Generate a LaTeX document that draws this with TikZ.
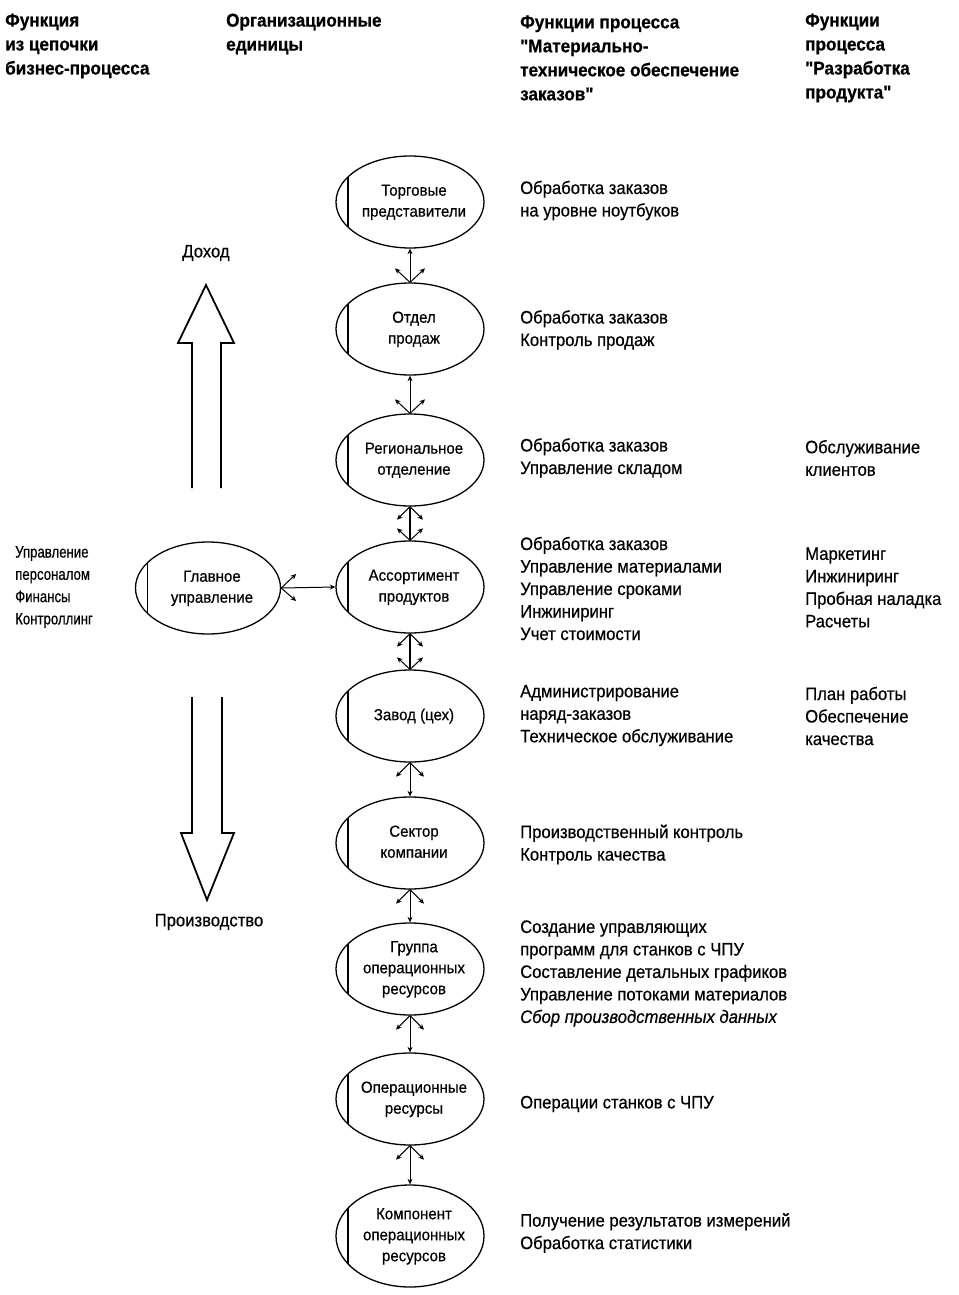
\documentclass[tikz,border=0pt]{standalone}
\usepackage{fontspec}
\setmainfont{Liberation Sans}
\newfontfamily\condfont{Liberation Sans}[FakeStretch=0.925, FakeBold=0.5]
\newfontfamily\ellfont{Liberation Sans}[FakeStretch=0.94, FakeBold=0.5]
\newfontfamily\hdrfont{Liberation Sans Bold}[FakeStretch=0.925, FakeBold=0.6]
\newfontfamily\narrowfont{Liberation Sans}[FakeStretch=0.8, FakeBold=0.5]
\usetikzlibrary{shapes.geometric,arrows.meta}
\tikzset{
  ell/.style={ellipse, draw, line width=1.3pt, minimum width=148pt, minimum height=92pt,
    inner sep=0pt, align=center, font=\ellfont\fontsize{16}{21}\selectfont,
    path picture={\draw[line width=1.8pt]
      ([xshift=12pt]path picture bounding box.south west) --
      ([xshift=12pt]path picture bounding box.north west);}},
  txt/.style={anchor=west, align=left, inner sep=0pt, font=\condfont\fontsize{18}{22.5}\selectfont},
  hdr/.style={anchor=west, align=left, inner sep=0pt, font=\hdrfont\fontsize{18.5}{24}\selectfont},
  side/.style={anchor=west, align=left, inner sep=0pt, font=\narrowfont\fontsize{16.5}{22.3}\selectfont},
  lbl/.style={inner sep=0pt, font=\condfont\fontsize{18}{22}\selectfont},
  conn/.style={line width=1pt},
  tip/.style={-{Stealth[length=5.5pt,width=5pt]}},
  thick conn/.style={line width=2pt},
  hollow/.style={line width=1.8pt, line join=miter},
}
\newcommand{\ellt}[1]{\makebox[0pt]{\hspace*{8pt}\begin{tabular}{@{}c@{}}#1\end{tabular}}}
\begin{document}
\begin{tikzpicture}[x=1pt,y=-1pt]
\fill[white] (0,0) rectangle (958,1295);
\useasboundingbox (0,0) rectangle (958,1295);

% headers
\node[hdr] (h1) at (5,46) {Функция\\из цепочки\\бизнес-процесса};
\node[hdr] (h2) at (226,34) {Организационные\\единицы};
\node[hdr] (h3) at (520,58) {Функции процесса\\"Материально-\\техническое обеспечение\\заказов"};
\node[hdr] (h4) at (805,58) {Функции\\процесса\\"Разработка\\продукта"};

% ellipses
\node[ell] (e1) at (410,202) {\ellt{Торговые\\представители}};
\node[ell] (e2) at (410,329) {\ellt{Отдел\\продаж}};
\node[ell] (e3) at (410,460) {\ellt{Региональное\\отделение}};
\node[ell] (e4) at (410,587) {\ellt{Ассортимент\\продуктов}};
\node[ell] (e5) at (410,716) {\ellt{Завод (цех)}};
\node[ell] (e6) at (410,843) {\ellt{Сектор\\компании}};
\node[ell] (e7) at (410,969) {\ellt{Группа\\операционных\\ресурсов}};
\node[ell] (e8) at (410,1099) {\ellt{Операционные\\ресурсы}};
\node[ell, minimum height=102pt] (e9) at (410,1236) {\ellt{Компонент\\операционных\\ресурсов}};
\node[ell, minimum width=145pt] (g) at (208,588) {\ellt{Главное\\управление}};

% connectors, upper part
\draw[conn,tip] (e2.north) -- (e1.south);
\draw[conn,tip] (e2.north) -- ++(-15,-14);
\draw[conn,tip] (e2.north) -- ++(15,-14);
\draw[conn,tip] (e3.north) -- (e2.south);
\draw[conn,tip] (e3.north) -- ++(-15,-14);
\draw[conn,tip] (e3.north) -- ++(15,-14);
% double connectors
\draw[thick conn] (e3.south) -- (e4.north);
\draw[conn,tip] (e3.south) -- ++(-13,13);
\draw[conn,tip] (e3.south) -- ++(13,13);
\draw[conn,tip] (e4.north) -- ++(-13,-12);
\draw[conn,tip] (e4.north) -- ++(13,-12);
\draw[thick conn] (e4.south) -- (e5.north);
\draw[conn,tip] (e4.south) -- ++(-13,13);
\draw[conn,tip] (e4.south) -- ++(13,13);
\draw[conn,tip] (e5.north) -- ++(-13,-12);
\draw[conn,tip] (e5.north) -- ++(13,-12);
% lower part
\foreach \a/\b in {e5/e6,e6/e7,e7/e8,e8/e9}{
  \draw[conn,tip] (\a.south) -- (\b.north);
  \draw[conn,tip] (\a.south) -- ++(-14,14);
  \draw[conn,tip] (\a.south) -- ++(14,14);
}
% head office
\draw[conn,tip] (g.east) -- (e4.west);
\draw[conn,tip] (g.east) -- ++(15,-14);
\draw[conn,tip] (g.east) -- ++(15,13);

% hollow arrows
\draw[hollow] (192,488) -- (192,343) -- (178,343) -- (206,285) -- (234,343) -- (221,343) -- (221,488);
\draw[hollow] (192,697) -- (192,833) -- (181,833) -- (207,900) -- (234,833) -- (222,833) -- (222,697);
\node[lbl] (up) at (206,253) {Доход};
\node[lbl] (down) at (209,922) {Производство};

% left text
\node[side] (s1) at (15,587) {Управление\\персоналом\\Финансы\\Контроллинг};

% column 3
\node[txt] (c1) at (520,200.5) {Обработка заказов\\на уровне ноутбуков};
\node[txt] (c2) at (520,330) {Обработка заказов\\Контроль продаж};
\node[txt] (c3) at (520,458) {Обработка заказов\\Управление складом};
\node[txt] (c4) at (520,588.5) {Обработка заказов\\Управление материалами\\Управление сроками\\Инжиниринг\\Учет стоимости};
\node[txt] (c5) at (520,715.5) {Администрирование\\наряд-заказов\\Техническое обслуживание};
\node[txt] (c6) at (520,844.5) {Производственный контроль\\Контроль качества};
\node[txt] (c7) at (520,973.5) {Создание управляющих\\программ для станков с ЧПУ\\Составление детальных графиков\\Управление потоками материалов\\\textit{Сбор производственных данных}};
\node[txt] (c8) at (520,1104) {Операции станков с ЧПУ};
\node[txt] (c9) at (520,1233) {Получение результатов измерений\\Обработка статистики};

% column 4
\node[txt] (d1) at (805,458) {Обслуживание\\клиентов};
\node[txt] (d2) at (805,587.5) {Маркетинг\\Инжиниринг\\Пробная наладка\\Расчеты};
\node[txt] (d3) at (805,716) {План работы\\Обеспечение\\качества};
\end{tikzpicture}
\end{document}
